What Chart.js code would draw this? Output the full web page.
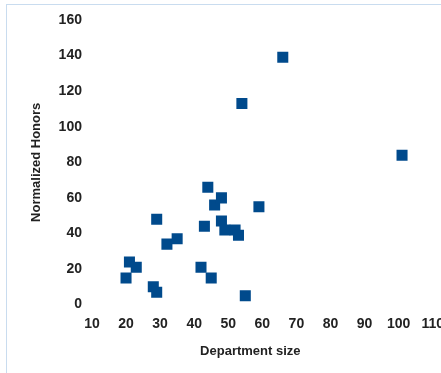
<!DOCTYPE html>
<html>
<head>
<meta charset="utf-8">
<script src="https://cdn.jsdelivr.net/npm/chart.js@4.4.1/dist/chart.umd.min.js"></script>
<style>
  html, body { margin: 0; padding: 0; background: #fff; overflow: hidden; }
  #frame { position: absolute; left: 6px; top: 4px; width: 460px; height: 400px;
           border-left: 1px solid #c9dcef; border-top: 1px solid #c9dcef; }
  #wrap { position: absolute; left: 0; top: 0; width: 455px; height: 373px; }
</style>
</head>
<body>
<div id="frame"></div>
<div id="wrap"><canvas id="honorsChart"></canvas></div>
<script>
// department size vs normalized honors
const deptSize = [20, 21, 23, 28, 29, 29, 32, 35, 42, 43, 44, 45, 46, 48, 48, 49, 52, 53, 54, 55, 59, 66, 101];
const honors   = [15, 24, 21, 10, 7, 48, 34, 37, 21, 44, 66, 15, 56, 60, 47, 42, 42, 39, 113, 5, 55, 139, 84];
const xTicks = [10, 20, 30, 40, 50, 60, 70, 80, 90, 100, 110];
const yTicks = [0, 20, 40, 60, 80, 100, 120, 140, 160];
const xTitle = 'Department size';
const yTitle = 'Normalized Honors';

const points = deptSize.map((x, i) => ({ x: x, y: honors[i] }));
const tickFont = { family: 'Liberation Sans, Arial, sans-serif', size: 14, weight: 'bold' };
const titleFont = { family: 'Liberation Sans, Arial, sans-serif', size: 13, weight: 'bold' };

// x title sits a little left of the plot centre in the original
const shiftedTitle = {
    id: 'shiftedTitle',
    afterDraw(chart) {
        const c = chart.ctx;
        const area = chart.chartArea;
        const xs = chart.scales.x;
        c.save();
        c.font = 'bold 13px Liberation Sans, Arial, sans-serif';
        c.fillStyle = '#222';
        c.textAlign = 'center';
        c.textBaseline = 'middle';
        c.fillText(xTitle, (area.left + area.right) / 2 - 12, xs.bottom - 8);
        c.restore();
    }
};

const ctx = document.getElementById('honorsChart');

new Chart(ctx, {
    type: 'scatter',
    data: {
        datasets: [{
            label: yTitle,
            data: points,
            pointStyle: 'rect',
            pointRadius: 7.8,
            pointHoverRadius: 7.8,
            backgroundColor: '#004a8c',
            borderWidth: 0
        }]
    },
    options: {
        responsive: true,
        maintainAspectRatio: false,
        animation: false,
        layout: { autoPadding: false, padding: { left: 22, top: 20, right: 2, bottom: 14 } },
        plugins: { legend: { display: false }, tooltip: { enabled: false } },
        scales: {
            x: {
                type: 'linear',
                min: 10,
                max: 110,
                afterBuildTicks: axis => { axis.ticks = xTicks.map(v => ({ value: v })); },
                grid: { display: false, drawTicks: false },
                border: { display: false },
                ticks: { color: '#222', font: tickFont, padding: 11, maxRotation: 0 },
                // reserves the space; text itself drawn by shiftedTitle
                title: { display: true, text: xTitle, color: 'rgba(0,0,0,0)', font: titleFont, padding: { top: 0, bottom: 0 } }
            },
            y: {
                min: 0,
                max: 160,
                afterBuildTicks: axis => { axis.ticks = yTicks.map(v => ({ value: v })); },
                grid: { display: false, drawTicks: false },
                border: { display: false },
                ticks: { color: '#222', font: tickFont, padding: 10 },
                title: { display: true, text: yTitle, color: '#222', font: titleFont, padding: { top: 7, bottom: 4 } }
            }
        }
    },
    plugins: [shiftedTitle]
});
</script>
</body>
</html>
